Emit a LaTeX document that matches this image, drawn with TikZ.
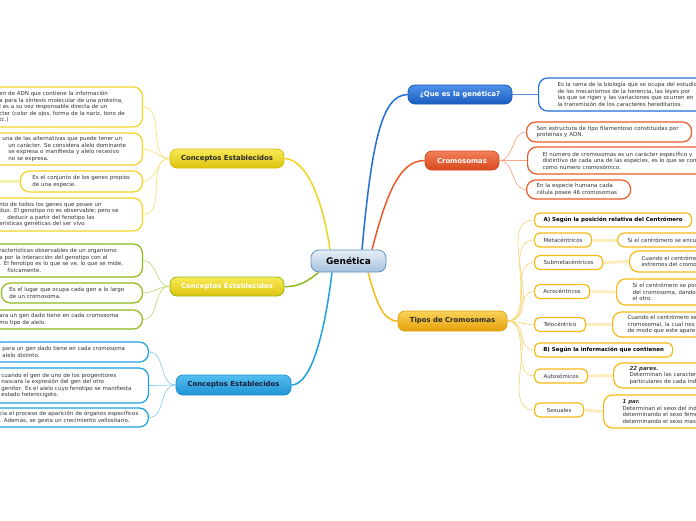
\documentclass[tikz,border=0pt]{standalone}
\usepackage{fontspec}
\setmainfont{DejaVu Sans}
\usetikzlibrary{backgrounds}

\definecolor{txt}{HTML}{333333}
\definecolor{txtDark}{HTML}{2B2B2B}
\definecolor{txtNavy}{HTML}{1B1B3A}
\definecolor{genEdge}{HTML}{5E93C4}
\definecolor{genTop}{HTML}{E6EFF8}
\definecolor{genBot}{HTML}{A6C1DB}
\definecolor{ylw}{HTML}{F2D321}
\definecolor{ylwEdge}{HTML}{D6BD15}
\definecolor{ylwTop}{HTML}{F8EA55}
\definecolor{ylwBot}{HTML}{DEC30F}
\definecolor{ylwPale}{HTML}{F6E47C}
\definecolor{ylwBar}{HTML}{F9F0B0}
\definecolor{grn}{HTML}{8DBB1A}
\definecolor{grnPale}{HTML}{C2DC78}
\definecolor{lblu}{HTML}{1EA0E0}
\definecolor{lbluEdge}{HTML}{1C8FCF}
\definecolor{lbluTop}{HTML}{55BEEF}
\definecolor{lbluBot}{HTML}{1E93D4}
\definecolor{lbluPale}{HTML}{8ED0F2}
\definecolor{dblu}{HTML}{1F6ED8}
\definecolor{dbluEdge}{HTML}{1A5ABD}
\definecolor{dbluTop}{HTML}{4F92E8}
\definecolor{dbluBot}{HTML}{1A5BC0}
\definecolor{dbluPale}{HTML}{5B8FE0}
\definecolor{org}{HTML}{EC5A2A}
\definecolor{orgEdge}{HTML}{D24A20}
\definecolor{orgTop}{HTML}{F2805A}
\definecolor{orgBot}{HTML}{D9481C}
\definecolor{orgPale}{HTML}{F7A989}
\definecolor{gld}{HTML}{F7B916}
\definecolor{gldEdge}{HTML}{DFA010}
\definecolor{gldTop}{HTML}{F9D258}
\definecolor{gldBot}{HTML}{E6A10A}
\definecolor{gldPale}{HTML}{F8D77E}
\definecolor{gldBar}{HTML}{FCEDBE}

\begin{document}
\begin{tikzpicture}[x=1pt,y=-1pt,
  topic/.style={draw, rounded corners=7pt, line width=0.8pt, inner sep=0pt, minimum height=19pt, font=\bfseries\fontsize{6.9}{8}\selectfont},
  leaf/.style={draw, fill=white, rounded corners=9pt, line width=1.2pt, inner ysep=0pt, align=left, text=txt, font=\fontsize{5.5}{6.5}\selectfont},
  tag/.style={leaf, rounded corners=5pt, inner sep=0pt, minimum height=14pt, align=center},
  twig/.style={line width=0.7pt},
  stem/.style={line width=1.5pt},
  bar/.style={line width=3pt}]
\useasboundingbox (0,0) rectangle (696,520);
\clip (0,0) rectangle (696,520);

% centre and main topics
\node[topic, minimum width=75pt, minimum height=22pt, rounded corners=8pt, draw=genEdge, top color=genTop, bottom color=genBot, font=\bfseries\fontsize{9}{10}\selectfont] (gen) at (348.5,261) {Genética};
\node[topic, minimum width=114pt, draw=ylwEdge, top color=ylwTop, bottom color=ylwBot, text=txtDark] (ceA) at (227,158.5) {Conceptos Establecidos};
\node[topic, minimum width=114pt, draw=grn, top color=ylwTop, bottom color=ylwBot, text=white] (ceB) at (227,286.5) {Conceptos Establecidos};
\node[topic, minimum width=115pt, minimum height=20pt, draw=lbluEdge, top color=lbluTop, bottom color=lbluBot, text=txtNavy] (ceC) at (233.5,385) {Conceptos Establecidos};
\node[topic, minimum width=104pt, draw=dbluEdge, top color=dbluTop, bottom color=dbluBot, text=white] (que) at (460,94.5) {¿Que es la genética?};
\node[topic, minimum width=74pt, draw=orgEdge, top color=orgTop, bottom color=orgBot, text=white] (cro) at (462,160.5) {Cromosomas};
\node[topic, minimum width=109pt, minimum height=20pt, draw=gldEdge, top color=gldTop, bottom color=gldBot, text=txtDark] (tip) at (452.5,321) {Tipos de Cromosomas};

% left leaves
\node[leaf, draw=ylw, anchor=east, inner xsep=10pt, text width=133pt, minimum height=40pt] (ceA1) at (143,107) {en de ADN que contiene la información\\a para la síntesis molecular de una proteína,\\l es a su vez responsable directa de un\\cter (color de ojos, forma de la nariz, tono de\\tc.)};
\node[leaf, draw=ylw, anchor=east, inner xsep=10pt, text width=133pt, minimum height=32pt] (ceA2) at (143,149) {\hspace*{3pt}una de las alternativas que puede tener un\\\hspace*{9pt}un carácter. Se considera alelo dominante\\\hspace*{9pt}se expresa o manifiesta y alelo recesivo\\\hspace*{9pt}no se expresa.};
\node[leaf, draw=ylw, anchor=east, inner xsep=12pt, text width=98pt, minimum height=21pt] (ceA3) at (143,181.5) {Es el conjunto de los genes propios\\de una especie.};
\node[leaf, draw=ylw, anchor=east, inner xsep=10pt, text width=133pt, minimum height=33pt] (ceA4) at (143,214.5) {nto de todos los genes que posee un\\duo. El genotipo no es observable; pero se\\\hspace*{8pt}deducir a partir del fenotipo las\\erísticas genéticas del ser vivo};
\node[leaf, draw=grn, anchor=east, inner xsep=10pt, text width=133pt, minimum height=33pt] (ceB1) at (143,260.5) {racterísticas observables de un organismo\\a por la interacción del genotipo con el\\. El fenotipo es lo que se ve, lo que se mide,\\\hspace*{8pt}físicamente.};
\node[leaf, draw=grn, anchor=east, inner xsep=8pt, text width=125pt, minimum height=20pt] (ceB2) at (143,293) {Es el lugar que ocupa cada gen a lo largo\\de un cromosoma.};
\node[leaf, draw=grn, anchor=east, inner xsep=10pt, text width=133pt, minimum height=19pt] (ceB3) at (143,319.5) {ara un gen dado tiene en cada cromosoma\\mo tipo de alelo.};
\node[leaf, draw=lblu, anchor=east, inner xsep=10pt, text width=136pt, minimum height=20pt] (ceC1) at (149,352) {para un gen dado tiene en cada cromosoma\\alelo distinto.};
\node[leaf, draw=lblu, anchor=east, inner xsep=10pt, text width=137pt, minimum height=35pt] (ceC2) at (149,385.5) {cuando el gen de uno de los progenitores\\nascara la expresión del gen del otro\\genitor. Es el alelo cuyo fenotipo se manifiesta\\estado heterocigoto.};
\node[leaf, draw=lblu, anchor=east, inner xsep=10pt, text width=139pt, minimum height=19pt] (ceC3) at (149,417.5) {cia el proceso de aparición de órganos específicos\\. Además, se gesta un crecimiento vellositario.};
\coordinate (ceA3end) at (-5,181.5);

% right leaves
\node[leaf, draw=dblu, anchor=west, inner xsep=19pt, text width=160pt, minimum height=33pt] (queD) at (538,94.5) {Es la rama de la biología que se ocupa del estudio\\de los mecanismos de la herencia, las leyes por\\las que se rigen y las variaciones que ocurren en\\la transmisión de los caracteres hereditarios.};
\node[leaf, draw=org, anchor=west, inner xsep=10pt, text width=145pt, minimum height=20pt] (croA) at (526,132) {Son estructura de tipo filamentoso constituidas por\\proteínas y ADN.};
\node[leaf, draw=org, anchor=west, inner xsep=15pt, text width=170pt, minimum height=27pt] (croB) at (527,160.5) {El número de cromosomas es un carácter específico y\\distintivo de cada una de las especies, es lo que se cono\\como número cromosómico.};
\node[leaf, draw=org, anchor=west, inner xsep=10pt, text width=84pt, minimum height=19pt] (croC) at (526,189.5) {En la especie humana cada\\célula posee 46 cromosomas};

% chromosome types
\node[tag, draw=gld, anchor=west, minimum width=157pt, font=\bfseries\fontsize{5.5}{6.5}\selectfont, text=black] (posA) at (534,220) {A) Según la posición relativa del Centrómero};
\node[tag, draw=gld, anchor=west, minimum width=57pt] (met) at (534,240) {Metacéntricos};
\node[tag, draw=gld, anchor=west, minimum width=68pt] (sub) at (534,262.5) {Submetacéntricos};
\node[tag, draw=gld, anchor=west, minimum width=55pt] (acr) at (534,291.5) {Acrocéntricos};
\node[tag, draw=gld, anchor=west, minimum width=51pt] (tel) at (534,324.5) {Telocéntrico};
\node[tag, draw=gld, anchor=west, minimum width=138pt, font=\bfseries\fontsize{5.5}{6.5}\selectfont, text=black] (infB) at (534,350) {B) Según la información que contienen};
\node[tag, draw=gld, anchor=west, minimum width=53pt] (aut) at (534,376) {Autosómicos};
\node[tag, draw=gld, anchor=west, minimum width=49pt] (sex) at (534,410) {Sexuales};

\node[leaf, draw=gld, rounded corners=7pt, anchor=west, inner xsep=10pt, text width=100pt, minimum height=14pt] (met-d) at (617,240) {Si el centrómero se encu};
\node[leaf, draw=gld, anchor=west, inner xsep=12pt, text width=100pt, minimum height=21pt] (sub-d) at (629,261.5) {Cuando el centróme\\extremos del cromo};
\node[leaf, draw=gld, anchor=west, inner xsep=16pt, text width=100pt, minimum height=26pt] (acr-d) at (616,292) {Si el centrómero se pos\\del cromosoma, dando\\el otro.};
\node[leaf, draw=gld, anchor=west, inner xsep=15pt, text width=100pt, minimum height=25pt] (tel-d) at (612,324.5) {Cuando el centrómero se\\cromosomal, la cual nos\\de modo que este apare};
\node[leaf, draw=gld, anchor=west, inner xsep=16pt, text width=100pt, minimum height=25pt] (aut-d) at (613,375.5) {\textbf{\textit{22 pares.}}\\Determinan las caracter\\particulares de cada indi};
\node[leaf, draw=gld, anchor=west, inner xsep=19pt, text width=100pt, minimum height=33pt] (sex-d) at (603,411.5) {\textbf{\textit{1 par.}}\\Determinan el sexo del ind\\determinando el sexo feme\\determinando el sexo mas};

% connectors
\begin{scope}[on background layer]
\fill[white] (0,0) rectangle (696,520);
\draw[stem, ylw] ([xshift=-18.5pt]gen.north) .. controls (322,195) and (305,159) .. (ceA.east);
\draw[stem, grn] ([xshift=-30pt]gen.south) .. controls (305,284) and (295,287) .. (ceB.east);
\draw[stem, lblu] ([xshift=-16.5pt]gen.south) .. controls (325,330) and (312,385) .. (ceC.east);
\draw[stem, dblu] ([xshift=13.5pt]gen.north) .. controls (372,140) and (382,95) .. (que.west);
\draw[stem, org] ([xshift=23.5pt]gen.north) .. controls (385,200) and (398,160) .. (cro.west);
\draw[stem, gld] ([xshift=19.5pt]gen.south) .. controls (376,300) and (382,321) .. (tip.west);
\foreach \k in {1,...,4}
  \draw[twig, ylwPale] (ceA.west) to[out=180,in=0] (ceA\k.east);
\foreach \k in {1,...,3}
  \draw[twig, grnPale] (ceB.west) to[out=180,in=0] (ceB\k.east);
\foreach \k in {1,...,3}
  \draw[twig, lbluPale] (ceC.west) to[out=180,in=0] (ceC\k.east);
\draw[bar, ylwBar] (ceA3.west) -- (ceA3end);
\draw[twig, dbluPale] (que.east) -- (queD.west);
\foreach \k in {A,B,C}
  \draw[twig, orgPale] (cro.east) to[out=0,in=180] (cro\k.west);
\foreach \n in {posA,met,sub,acr,tel,infB,aut,sex}
  \draw[twig, gldPale] (tip.east) to[out=0,in=180] (\n.west);
\foreach \n in {met,sub,acr,tel,aut,sex}
  \draw[bar, gldBar] (\n.east) -- (\n-d.west);
\end{scope}
\end{tikzpicture}
\end{document}
